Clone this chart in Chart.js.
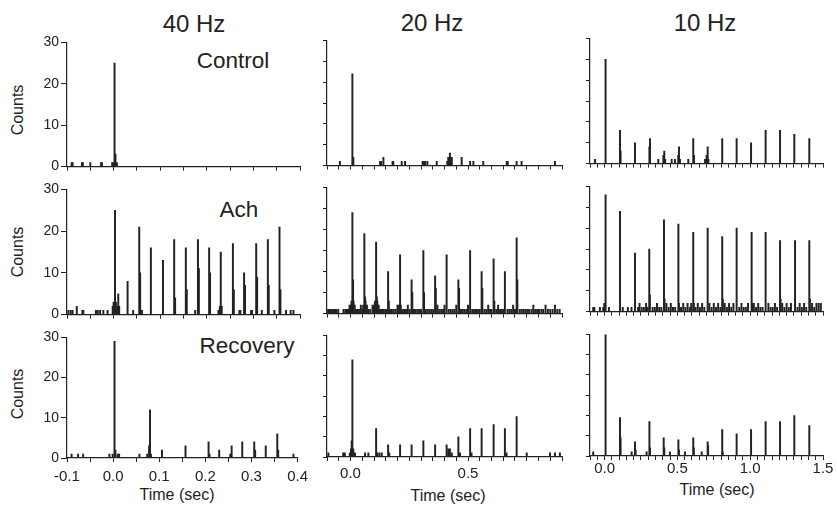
<!DOCTYPE html>
<html lang="en">
<head>
  <meta charset="UTF-8">
  <title>PSTH at 40, 20 and 10 Hz</title>
  <script src="https://cdn.jsdelivr.net/npm/chart.js"></script>
  <style>
    body {
      margin: 0;
      background: #fff;
      font-family: 'Liberation Sans', Arial, sans-serif;
      color: #222;
    }
    #fig {
      position: relative;
      width: 837px;
      height: 505px;
      overflow: hidden;
    }
    .lbl {
      position: absolute;
      white-space: nowrap;
      transform: translate(-50%, -50%);
    }
    .rot {
      transform: translate(-50%, -50%) rotate(-90deg);
    }
  </style>
</head>
<body>
  <div id="fig">
    <div class="lbl" style="left:194px;top:24px;font-size:24px">40 Hz</div>
    <div class="lbl" style="left:432px;top:23px;font-size:24px">20 Hz</div>
    <div class="lbl" style="left:705px;top:23px;font-size:24px">10 Hz</div>

    <div class="lbl" style="left:233px;top:61px;font-size:22.5px">Control</div>
    <div class="lbl" style="left:239px;top:210px;font-size:22.5px">Ach</div>
    <div class="lbl" style="left:247px;top:346px;font-size:22.5px">Recovery</div>

    <div class="lbl rot" style="left:18px;top:110px;font-size:16px">Counts</div>
    <div class="lbl rot" style="left:18px;top:252px;font-size:16px">Counts</div>
    <div class="lbl rot" style="left:18px;top:394px;font-size:16px">Counts</div>

    <div class="lbl" style="left:177px;top:495px;font-size:16px">Time (sec)</div>
    <div class="lbl" style="left:448px;top:496px;font-size:16px">Time (sec)</div>
    <div class="lbl" style="left:717px;top:490px;font-size:16px">Time (sec)</div>
  </div>

  <script>
    // bins: time (sec) and counts, one pair of arrays per panel

    // 40 Hz
    const ctl40T = [-0.090, -0.088, -0.068, -0.066, -0.050, -0.027, -0.025, -0.003, -0.001, 0.002, 0.004, 0.007];
    const ctl40N = [1, 1, 1, 1, 1, 1, 1, 1, 1, 25, 3, 1];

    const ach40T = [-0.097, -0.092, -0.088, -0.079, -0.067, -0.065, -0.038, -0.034, -0.029, -0.022, -0.013, -0.002,
      0.000, 0.003, 0.005, 0.008, 0.010, 0.012, 0.030, 0.042, 0.055, 0.057, 0.061, 0.080, 0.106,
      0.130, 0.132, 0.155, 0.157, 0.175, 0.181, 0.183, 0.205, 0.207, 0.225, 0.228, 0.230, 0.232,
      0.256, 0.258, 0.270, 0.272, 0.280, 0.282, 0.295, 0.297, 0.306, 0.308, 0.318, 0.331, 0.333,
      0.345, 0.356, 0.358, 0.370, 0.380, 0.386];
    const ach40N = [1, 1, 1, 2, 1, 1, 1, 1, 1, 1, 1, 2,
      3, 25, 3, 2, 5, 2, 8, 1, 21, 10, 1, 16, 13,
      18, 4, 16, 6, 1, 18, 11, 16, 10, 1, 2, 15, 2,
      17, 6, 1, 1, 10, 7, 1, 1, 17, 9, 1, 18, 7,
      1, 21, 6, 1, 1, 1];

    const rec40T = [-0.090, -0.076, -0.065, -0.008, -0.001, 0.003, 0.005, 0.010, 0.013, 0.057, 0.074,
      0.078, 0.080, 0.082, 0.106, 0.157, 0.207, 0.209, 0.230, 0.254, 0.257, 0.280, 0.306, 0.308,
      0.331, 0.356, 0.358, 0.391];
    const rec40N = [1, 1, 1, 1, 1, 29, 2, 1, 1, 1, 1,
      3, 12, 1, 2, 3, 4, 1, 2, 1, 3, 4, 4, 2,
      3, 6, 2, 1];

    // 20 Hz
    const ctl20T = [-0.045, 0.008, 0.012, 0.126, 0.130, 0.140, 0.179, 0.182, 0.218, 0.232, 0.307, 0.312,
      0.317, 0.327, 0.367, 0.412, 0.416, 0.423, 0.427, 0.431, 0.473, 0.509, 0.523, 0.565, 0.665,
      0.669, 0.707, 0.728, 0.870];
    const ctl20N = [1, 22, 2, 1, 1, 2, 1, 1, 1, 1, 1, 1,
      1, 1, 1, 1, 2, 3, 2, 2, 2, 1, 1, 1, 1,
      1, 1, 1, 1];

    const ach20T = [-0.095, -0.090, -0.085, -0.078, -0.072, -0.066, -0.060, -0.052, -0.030, -0.022, -0.015,
      -0.008, -0.004, 0.002, 0.004, 0.008, 0.011, 0.013, 0.018, 0.024, 0.030, 0.036, 0.044, 0.050,
      0.054, 0.059, 0.062, 0.064, 0.070, 0.076, 0.084, 0.094, 0.100, 0.104, 0.109, 0.112, 0.114,
      0.116, 0.120, 0.126, 0.134, 0.142, 0.150, 0.156, 0.160, 0.163, 0.170, 0.176, 0.184, 0.192,
      0.200, 0.206, 0.211, 0.214, 0.220, 0.228, 0.236, 0.244, 0.252, 0.260, 0.263, 0.270, 0.276,
      0.284, 0.292, 0.300, 0.310, 0.313, 0.320, 0.328, 0.336, 0.344, 0.352, 0.360, 0.363, 0.370,
      0.378, 0.386, 0.394, 0.400, 0.409, 0.418, 0.426, 0.434, 0.442, 0.450, 0.459, 0.462, 0.470,
      0.478, 0.486, 0.494, 0.500, 0.509, 0.518, 0.526, 0.534, 0.542, 0.550, 0.558, 0.561, 0.570,
      0.578, 0.586, 0.594, 0.600, 0.609, 0.612, 0.620, 0.628, 0.636, 0.644, 0.650, 0.657, 0.668,
      0.676, 0.684, 0.692, 0.700, 0.707, 0.710, 0.720, 0.728, 0.736, 0.744, 0.752, 0.760, 0.770,
      0.778, 0.786, 0.794, 0.802, 0.812, 0.820, 0.830, 0.840, 0.850, 0.860, 0.870, 0.880, 0.890];
    const ach20N = [1, 1, 1, 1, 1, 1, 1, 1, 1, 1, 1,
      1, 2, 2, 3, 24, 8, 3, 2, 1, 1, 1, 2, 1,
      2, 19, 4, 3, 2, 1, 1, 2, 2, 3, 17, 4, 3,
      2, 2, 1, 1, 1, 1, 1, 10, 3, 1, 1, 1, 1,
      2, 2, 14, 2, 1, 1, 1, 2, 1, 8, 5, 1, 1,
      1, 1, 1, 15, 5, 1, 1, 1, 1, 1, 9, 6, 2,
      1, 1, 1, 2, 14, 1, 1, 1, 1, 2, 8, 6, 1,
      1, 1, 1, 2, 15, 1, 1, 1, 1, 1, 10, 6, 1,
      1, 2, 1, 1, 13, 3, 1, 2, 1, 1, 1, 10, 1,
      1, 1, 2, 1, 18, 8, 1, 1, 1, 1, 1, 1, 1,
      2, 1, 1, 1, 1, 1, 2, 1, 1, 1, 2, 1, 1];

    const rec20T = [-0.094, -0.031, -0.024, -0.003, 0.002, 0.005, 0.008, 0.012, 0.019, 0.062, 0.076,
      0.109, 0.114, 0.123, 0.133, 0.160, 0.165, 0.211, 0.260, 0.310, 0.360, 0.409, 0.416, 0.423,
      0.431, 0.459, 0.466, 0.509, 0.515, 0.558, 0.609, 0.657, 0.664, 0.707, 0.750, 0.849, 0.870, 0.891];
    const rec20N = [1, 1, 1, 1, 2, 4, 24, 2, 1, 1, 1,
      7, 1, 1, 1, 3, 1, 3, 3, 4, 3, 3, 2, 2,
      1, 5, 1, 7, 1, 7, 8, 7, 1, 10, 1, 1, 1, 1];

    // 10 Hz
    const ctl10T = [-0.066, 0.007, 0.106, 0.110, 0.209, 0.308, 0.312, 0.369, 0.404, 0.410, 0.416, 0.461,
      0.484, 0.506, 0.511, 0.518, 0.575, 0.609, 0.614, 0.690, 0.701, 0.708, 0.713, 0.808, 0.907,
      1.006, 1.106, 1.205, 1.303, 1.406];
    const ctl10N = [1, 25, 8, 3, 5, 4, 6, 1, 2, 3, 1, 1,
      1, 2, 4, 1, 1, 6, 2, 1, 2, 4, 1, 6, 6,
      5, 8, 8, 7, 6];

    const ach10T = [-0.078, -0.070, -0.032, -0.009, -0.002, 0.007, 0.030, 0.106, 0.125, 0.160, 0.185,
      0.209, 0.230, 0.240, 0.255, 0.270, 0.285, 0.295, 0.307, 0.311, 0.330, 0.345, 0.360, 0.375,
      0.390, 0.408, 0.412, 0.425, 0.440, 0.455, 0.470, 0.485, 0.507, 0.511, 0.525, 0.540, 0.555,
      0.570, 0.585, 0.595, 0.609, 0.613, 0.625, 0.640, 0.655, 0.670, 0.685, 0.708, 0.720, 0.735,
      0.750, 0.765, 0.780, 0.795, 0.808, 0.812, 0.825, 0.840, 0.855, 0.870, 0.885, 0.907, 0.925,
      0.940, 0.955, 0.970, 0.985, 1.010, 1.014, 1.025, 1.040, 1.055, 1.070, 1.085, 1.106, 1.125,
      1.140, 1.155, 1.170, 1.185, 1.205, 1.209, 1.220, 1.235, 1.250, 1.265, 1.280, 1.308, 1.325,
      1.340, 1.355, 1.370, 1.385, 1.406, 1.410, 1.425, 1.440, 1.455, 1.470, 1.485];
    const ach10N = [1, 1, 1, 1, 2, 28, 1, 24, 1, 1, 1,
      14, 1, 2, 1, 1, 2, 1, 15, 4, 1, 1, 2, 1,
      1, 22, 3, 2, 1, 2, 1, 1, 21, 2, 1, 2, 1,
      2, 1, 2, 19, 2, 1, 2, 1, 2, 1, 20, 2, 1,
      2, 1, 2, 1, 18, 3, 2, 1, 2, 1, 2, 20, 1,
      2, 1, 1, 2, 19, 2, 2, 1, 2, 1, 1, 19, 2,
      1, 1, 2, 1, 17, 3, 2, 1, 2, 1, 2, 17, 1,
      2, 1, 2, 1, 17, 3, 2, 1, 2, 2, 2];

    const rec10T = [-0.078, 0.007, 0.106, 0.110, 0.186, 0.209, 0.213, 0.289, 0.308, 0.312, 0.406, 0.410,
      0.449, 0.507, 0.511, 0.552, 0.609, 0.613, 0.667, 0.708, 0.711, 0.808, 0.811, 0.907, 1.006,
      1.106, 1.205, 1.303, 1.406];
    const rec10N = [1, 30, 9.5, 4.5, 1, 3.5, 1.5, 1, 8.5, 2, 4.5, 2,
      1, 4, 1.5, 1, 4.5, 2, 1, 3.5, 2.5, 6.5, 1, 5.5, 6.5,
      8.5, 8.5, 10, 7.5];

    // layout of the 3 x 3 grid (plot areas in page pixels)
    const colRange = [[-0.1, 0.4], [-0.1, 0.9], [-0.1, 1.5]];
    const plotX = [[67, 300], [327, 562], [590, 823]];
    const plotY = [
      [[42, 167], [189, 315], [337, 458]],
      [[40, 166], [187, 314], [335, 457]],
      [[38, 164], [186, 312], [334, 456]]
    ];
    const xLabelPad = [6, 4, 0];
    const fontFamily = "'Liberation Sans', Arial, sans-serif";
    const ink = '#222';

    function xLabel(col, v) {
      const k = Math.round(v * 100);
      if (col === 0) return k % 10 === 0 ? (k / 100).toFixed(1) : '';
      if (col === 1) return (k === 0 || k === 50) ? (k / 100).toFixed(1) : '';
      return (k >= 0 && k % 50 === 0) ? (k / 100).toFixed(1) : '';
    }

    function makePanel(col, row, times, counts) {
      const [x0, x1] = plotX[col];
      const [y0, y1] = plotY[col][row];
      const padL = 36, padT = 10, padR = 14;
      const padB = row === 2 ? 34 : 10;
      const w = x1 - x0 + padL + padR;
      const h = y1 - y0 + padT + padB;

      const cv = document.createElement('canvas');
      cv.width = w;
      cv.height = h;
      cv.style.cssText = `position:absolute;left:${x0 - padL}px;top:${y0 - padT}px;width:${w}px;height:${h}px`;
      document.getElementById('fig').appendChild(cv);

      const pts = times.map((t, i) => ({ x: t, y: counts[i] }));

      new Chart(cv, {
        type: 'bar',
        data: {
          datasets: [{
            data: pts,
            backgroundColor: ink,
            borderWidth: 0,
            barThickness: 1.3
          }]
        },
        options: {
          responsive: false,
          animation: false,
          devicePixelRatio: 1,
          layout: { padding: { left: 0, top: padT, right: padR, bottom: 0 } },
          plugins: { legend: { display: false }, tooltip: { enabled: false } },
          scales: {
            x: {
              type: 'linear',
              min: colRange[col][0],
              max: colRange[col][1],
              offset: false,
              grid: { drawOnChartArea: false, drawTicks: true, tickLength: 4, color: ink, offset: false },
              border: { color: ink, width: 1.2 },
              ticks: {
                stepSize: 0.05,
                maxTicksLimit: 100,
                autoSkip: false,
                maxRotation: 0,
                padding: xLabelPad[col],
                color: '#222',
                font: { family: fontFamily, size: 15 },
                callback: v => row === 2 ? xLabel(col, v) : ''
              },
              afterFit: s => { s.height = padB; }
            },
            y: {
              min: 0,
              max: 30,
              grid: { drawOnChartArea: false, drawTicks: true, tickLength: col === 0 ? 6 : 4, color: ink },
              border: { color: ink, width: 1.2 },
              ticks: {
                stepSize: col === 0 ? 10 : 5,
                padding: 2,
                color: '#222',
                font: { family: fontFamily, size: 14 },
                callback: v => col === 0 ? String(v) : ''
              },
              afterFit: s => { s.width = padL; }
            }
          }
        }
      });
    }

    makePanel(0, 0, ctl40T, ctl40N);
    makePanel(0, 1, ach40T, ach40N);
    makePanel(0, 2, rec40T, rec40N);
    makePanel(1, 0, ctl20T, ctl20N);
    makePanel(1, 1, ach20T, ach20N);
    makePanel(1, 2, rec20T, rec20N);
    makePanel(2, 0, ctl10T, ctl10N);
    makePanel(2, 1, ach10T, ach10N);
    makePanel(2, 2, rec10T, rec10N);
  </script>
</body>
</html>
